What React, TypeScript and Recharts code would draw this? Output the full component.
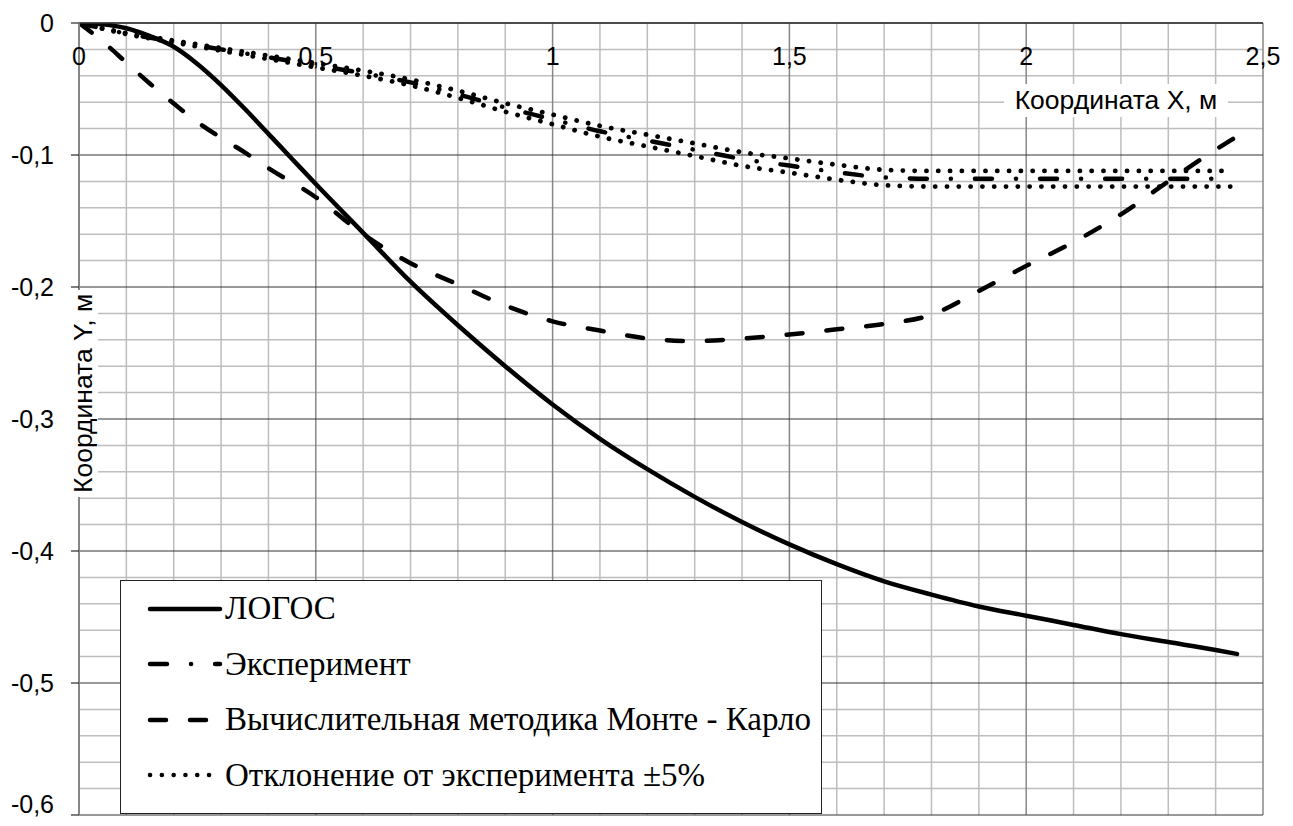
import React from "react";
import { LineChart, Line, XAxis, YAxis, CartesianGrid, Legend } from "recharts";

// ЛОГОС
const logosX = [0, 0.05, 0.1, 0.15, 0.2, 0.25, 0.3, 0.35, 0.4, 0.45, 0.5, 0.6, 0.7, 0.8, 0.9, 1.0, 1.1, 1.2, 1.3, 1.4, 1.5, 1.6, 1.7, 1.8, 1.9, 2.0, 2.1, 2.2, 2.3, 2.4, 2.445];
const logosY = [0, -0.001, -0.004, -0.01, -0.018, -0.031, -0.047, -0.065, -0.084, -0.103, -0.122, -0.159, -0.196, -0.229, -0.26, -0.289, -0.315, -0.338, -0.359, -0.378, -0.395, -0.41, -0.423, -0.433, -0.442, -0.449, -0.456, -0.463, -0.469, -0.475, -0.478];

// Вычислительная методика Монте - Карло
const mcX = [0, 0.05, 0.1, 0.15, 0.2, 0.25, 0.3, 0.35, 0.4, 0.5, 0.6, 0.7, 0.8, 0.9, 1.0, 1.1, 1.2, 1.3, 1.4, 1.5, 1.6, 1.7, 1.8, 1.9, 2.0, 2.1, 2.2, 2.3, 2.4, 2.445];
const mcY = [0, -0.014, -0.03, -0.046, -0.061, -0.075, -0.087, -0.098, -0.11, -0.132, -0.16, -0.182, -0.198, -0.214, -0.226, -0.233, -0.239, -0.241, -0.239, -0.236, -0.232, -0.228, -0.221, -0.203, -0.184, -0.166, -0.145, -0.12, -0.096, -0.086];

// Эксперимент and ±5% band
const expX = [0, 0.1, 0.2, 0.3, 0.4, 0.5, 0.6, 0.7, 0.8, 0.9, 1.0, 1.1, 1.2, 1.3, 1.4, 1.5, 1.6, 1.7, 1.8, 1.9, 2.0, 2.1, 2.2, 2.3, 2.435];
const expY = [0, -0.008, -0.014, -0.02, -0.026, -0.032, -0.038, -0.045, -0.054, -0.064, -0.073, -0.082, -0.089, -0.096, -0.103, -0.108, -0.113, -0.117, -0.118, -0.118, -0.118, -0.118, -0.118, -0.118, -0.118];
const devUpY = [0, -0.0076, -0.0133, -0.019, -0.0247, -0.0304, -0.0361, -0.0428, -0.0513, -0.0608, -0.0694, -0.0779, -0.0846, -0.0912, -0.0979, -0.1026, -0.1074, -0.1112, -0.1121, -0.1121, -0.1121, -0.1121, -0.1121, -0.1121, -0.1121];
const devLoY = [0, -0.0084, -0.0147, -0.021, -0.0273, -0.0336, -0.0399, -0.0473, -0.0567, -0.0672, -0.0767, -0.0861, -0.0935, -0.1008, -0.1082, -0.1134, -0.1187, -0.1229, -0.1239, -0.1239, -0.1239, -0.1239, -0.1239, -0.1239, -0.1239];

const xTicks = [0, 0.5, 1, 1.5, 2, 2.5];
const yTicks = [0, -0.1, -0.2, -0.3, -0.4, -0.5, -0.6];
const xMinor = [0.1, 0.2, 0.3, 0.4, 0.6, 0.7, 0.8, 0.9, 1.1, 1.2, 1.3, 1.4, 1.6, 1.7, 1.8, 1.9, 2.1, 2.2, 2.3, 2.4];
const yMinor = [-0.02, -0.04, -0.06, -0.08, -0.12, -0.14, -0.16, -0.18, -0.22, -0.24, -0.26, -0.28, -0.32, -0.34, -0.36, -0.38, -0.42, -0.44, -0.46, -0.48, -0.52, -0.54, -0.56, -0.58];

const toPoints = (xs: number[], ys: number[]) => xs.map((x, i) => ({ x, y: ys[i] }));

const logos = toPoints(logosX, logosY);
const mc = toPoints(mcX, mcY);
const exp = toPoints(expX, expY);
const devUp = toPoints(expX, devUpY);
const devLo = toPoints(expX, devLoY);

const SANS = "'Liberation Sans', Arial, sans-serif";
const SERIF = "'Liberation Serif', 'Times New Roman', serif";

const fmt = (v: number) => String(v).replace(".", ",");

const DASH_EXP = "17 24 0.1 24";
const DASH_MC = "16 24";
const DASH_DOT = "0.1 11.7";

const renderXTick = (props: any) => {
  const { x, y, payload } = props;
  return (
    <text key={payload.value} x={x} y={y + 42} textAnchor="middle" fontFamily={SANS} fontSize={25} fill="#000">
      {fmt(payload.value)}
    </text>
  );
};

// the bottom label sits a little higher so it stays inside the picture
const renderYTick = (props: any) => {
  const { x, y, payload } = props;
  return (
    <text key={payload.value} x={x} y={Math.min(y, 804) + 9} textAnchor="end" fontFamily={SANS} fontSize={25} fill="#000">
      {fmt(payload.value)}
    </text>
  );
};

const legendItems = [
  { label: "ЛОГОС", dash: undefined, width: 4.5 },
  { label: "Эксперимент", dash: DASH_EXP, width: 4.5 },
  { label: "Вычислительная методика Монте - Карло", dash: DASH_MC, width: 4.5 },
  { label: "Отклонение от эксперимента ±5%", dash: DASH_DOT, width: 4.5 },
];

const renderLegend = () => (
  <div
    style={{
      width: "100%",
      height: "100%",
      boxSizing: "border-box",
      border: "1.5px solid #222",
      background: "#fff",
    }}
  >
    {legendItems.map((it) => (
      <div key={it.label} style={{ height: 55.5, display: "flex", alignItems: "center" }}>
        <svg width={76} height={12} style={{ marginLeft: 26, flex: "none" }}>
          <line
            x1={3}
            x2={73}
            y1={6}
            y2={6}
            stroke="#000"
            strokeWidth={it.width}
            strokeLinecap="round"
            strokeDasharray={it.dash}
          />
        </svg>
        <span style={{ fontFamily: SERIF, fontSize: 33, marginLeft: 2, lineHeight: 1, whiteSpace: "nowrap" }}>
          {it.label}
        </span>
      </div>
    ))}
  </div>
);

export default function App() {
  return (
    <div style={{ position: "absolute", left: 0, top: 0, width: 1293, height: 826, background: "#fff" }}>
      <LineChart width={1293} height={826} margin={{ top: 0, right: 30, bottom: 11, left: 0 }}>
        <CartesianGrid verticalValues={xMinor} horizontalValues={yMinor} stroke="#bdbdbd" strokeWidth={1.5} />
        <CartesianGrid verticalValues={xTicks} horizontal={false} stroke="#878787" strokeWidth={1.5} />
        <CartesianGrid horizontalValues={yTicks} vertical={false} stroke="#333" strokeWidth={1} />
        <XAxis
          type="number"
          dataKey="x"
          orientation="top"
          domain={[0, 2.5]}
          ticks={xTicks}
          interval={0}
          height={23}
          tickSize={0}
          tickMargin={0}
          tickLine={false}
          axisLine={{ stroke: "#333", strokeWidth: 1.5 }}
          tick={renderXTick}
          allowDataOverflow
        />
        <YAxis
          type="number"
          dataKey="y"
          domain={[-0.6, 0]}
          ticks={yTicks}
          interval={0}
          width={79}
          tickSize={8}
          tickMargin={17}
          tickLine={{ stroke: "#000", strokeWidth: 1 }}
          axisLine={{ stroke: "#878787", strokeWidth: 2 }}
          tick={renderYTick}
          allowDataOverflow
        />
        <Legend
          layout="horizontal"
          verticalAlign="middle"
          content={renderLegend}
          wrapperStyle={{ left: 120, top: 580, width: 702, height: 234 }}
        />
        <Line data={devUp} dataKey="y" type="monotone" stroke="#000" strokeWidth={4.8} strokeLinecap="round" strokeDasharray={DASH_DOT} dot={false} isAnimationActive={false} />
        <Line data={devLo} dataKey="y" type="monotone" stroke="#000" strokeWidth={4.8} strokeLinecap="round" strokeDasharray={DASH_DOT} dot={false} isAnimationActive={false} />
        <Line data={exp} dataKey="y" type="monotone" stroke="#000" strokeWidth={4.5} strokeLinecap="round" strokeDasharray={DASH_EXP} dot={false} isAnimationActive={false} />
        <Line data={mc} dataKey="y" type="monotone" stroke="#000" strokeWidth={4.5} strokeLinecap="round" strokeDasharray={DASH_MC} dot={false} isAnimationActive={false} />
        <Line data={logos} dataKey="y" type="monotone" stroke="#000" strokeWidth={4.5} strokeLinecap="round" dot={false} isAnimationActive={false} />
      </LineChart>
      <div
        style={{
          position: "absolute",
          left: 1004,
          top: 84,
          width: 224,
          height: 33,
          background: "#fff",
          fontFamily: SANS,
          fontSize: 26.5,
          lineHeight: "33px",
          textAlign: "center",
          whiteSpace: "nowrap",
        }}
      >
        Координата X, м
      </div>
      <div
        style={{
          position: "absolute",
          left: 68,
          top: 290,
          width: 30,
          height: 207,
          background: "#fff",
          fontFamily: SANS,
          fontSize: 26.5,
          lineHeight: "30px",
          writingMode: "vertical-rl",
          transform: "rotate(180deg)",
          textAlign: "center",
          whiteSpace: "nowrap",
        }}
      >
        Координата Y, м
      </div>
    </div>
  );
}
